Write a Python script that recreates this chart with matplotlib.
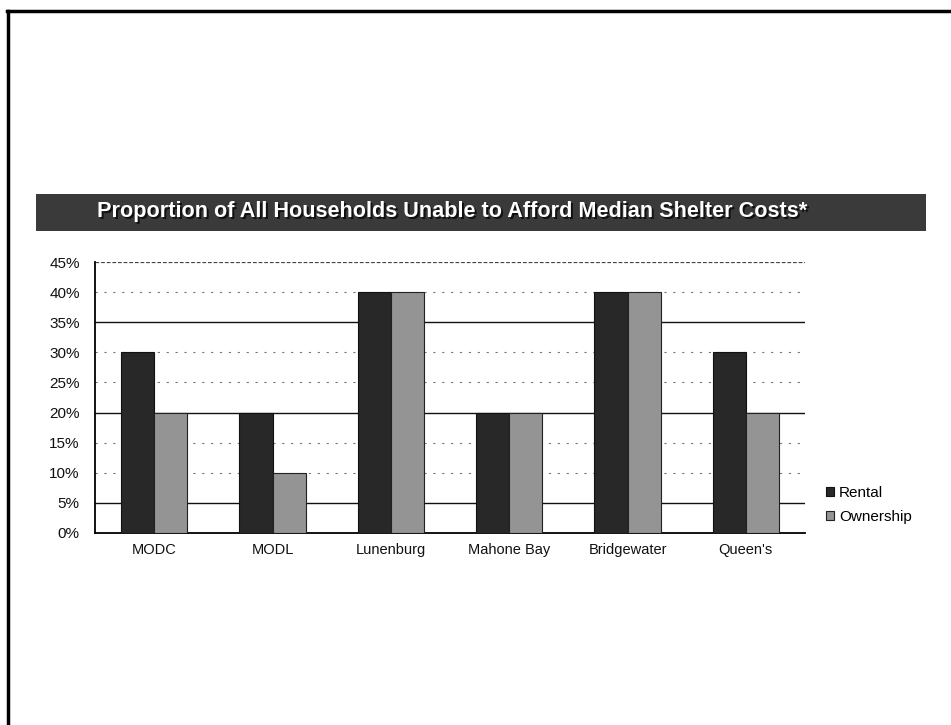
import matplotlib
matplotlib.use("Agg")
import matplotlib.pyplot as plt
import numpy as np
from matplotlib.patches import Rectangle

categories = ["MODC", "MODL", "Lunenburg", "Mahone Bay", "Bridgewater", "Queen's"]
rental = [30, 20, 40, 20, 40, 30]
ownership = [20, 10, 40, 20, 40, 20]
series_names = ["Rental", "Ownership"]
yticks = [0, 5, 10, 15, 20, 25, 30, 35, 40, 45]
title = "Proportion of All Households Unable to Afford Median Shelter Costs*"

plt.rcParams['font.family'] = ['Liberation Sans', 'DejaVu Sans']

fig = plt.figure(figsize=(9.51, 7.25), dpi=100)
fig.patch.set_facecolor("white")

# page border (top and left only, as in scanned page)
fig.add_artist(plt.Line2D([7/951, 1.0], [1-11/725, 1-11/725], color="black", lw=2.5, transform=fig.transFigure))
fig.add_artist(plt.Line2D([8/951, 8/951], [0, 1-11/725], color="black", lw=2.5, transform=fig.transFigure))

# title bar
fig.add_artist(Rectangle((36/951, 1-231/725), (926-36)/951, (231-194)/725,
                         transform=fig.transFigure, facecolor="#3a3a3a", edgecolor="none"))
tfam = ['Liberation Sans', 'DejaVu Sans']
fig.text(97/951 + 0.0018, 1-212/725 - 0.0025, title, color="#111111", fontsize=15.6, fontweight="bold",
         family=tfam, va="center", ha="left")
fig.text(97/951, 1-212/725, title, color="white", fontsize=15.6, fontweight="bold",
         family=tfam, va="center", ha="left")

ax = fig.add_axes([95/951, 1-533/725, (805-95)/951, (533-262)/725])
x = np.arange(len(categories))
w = 0.28
ax.set_xlim(-0.5, len(categories) - 0.5)
ax.set_ylim(0, 45)

# gridlines
for v in yticks[1:]:
    if v in (5, 20, 35):
        ax.axhline(v, color="#111111", lw=1.0, zorder=1)
    elif v == 45:
        ax.axhline(v, color="#444444", lw=0.9, ls=(0, (3, 1.5)), zorder=1)
    else:
        ax.axhline(v, color="#777777", lw=0.8, ls=(0, (2, 6)), zorder=1)

ax.bar(x - w/2, rental, w, color="#282828", edgecolor="#111111", lw=0.8, zorder=3, label=series_names[0])
ax.bar(x + w/2, ownership, w, color="#949494", edgecolor="#222222", lw=0.8, zorder=3, label=series_names[1])

ax.set_yticks(yticks)
ax.set_yticklabels([f"{v}%" for v in yticks], fontsize=11)
ax.set_xticks(x)
ax.set_xticklabels(categories, fontsize=10.5)
ax.tick_params(axis="both", length=0, colors="#111111")
ax.tick_params(axis="x", pad=7)
ax.tick_params(axis="y", pad=11)
for s in ("top", "right"):
    ax.spines[s].set_visible(False)
ax.spines["left"].set_linewidth(1.3)
ax.spines["bottom"].set_linewidth(1.3)

leg = ax.legend(loc="center left", bbox_to_anchor=(1.01, 0.105), frameon=False, fontsize=11,
                handlelength=0.55, handleheight=0.55, handletextpad=0.3, labelspacing=0.65)

fig.savefig("out.png", dpi=100, facecolor="white")
